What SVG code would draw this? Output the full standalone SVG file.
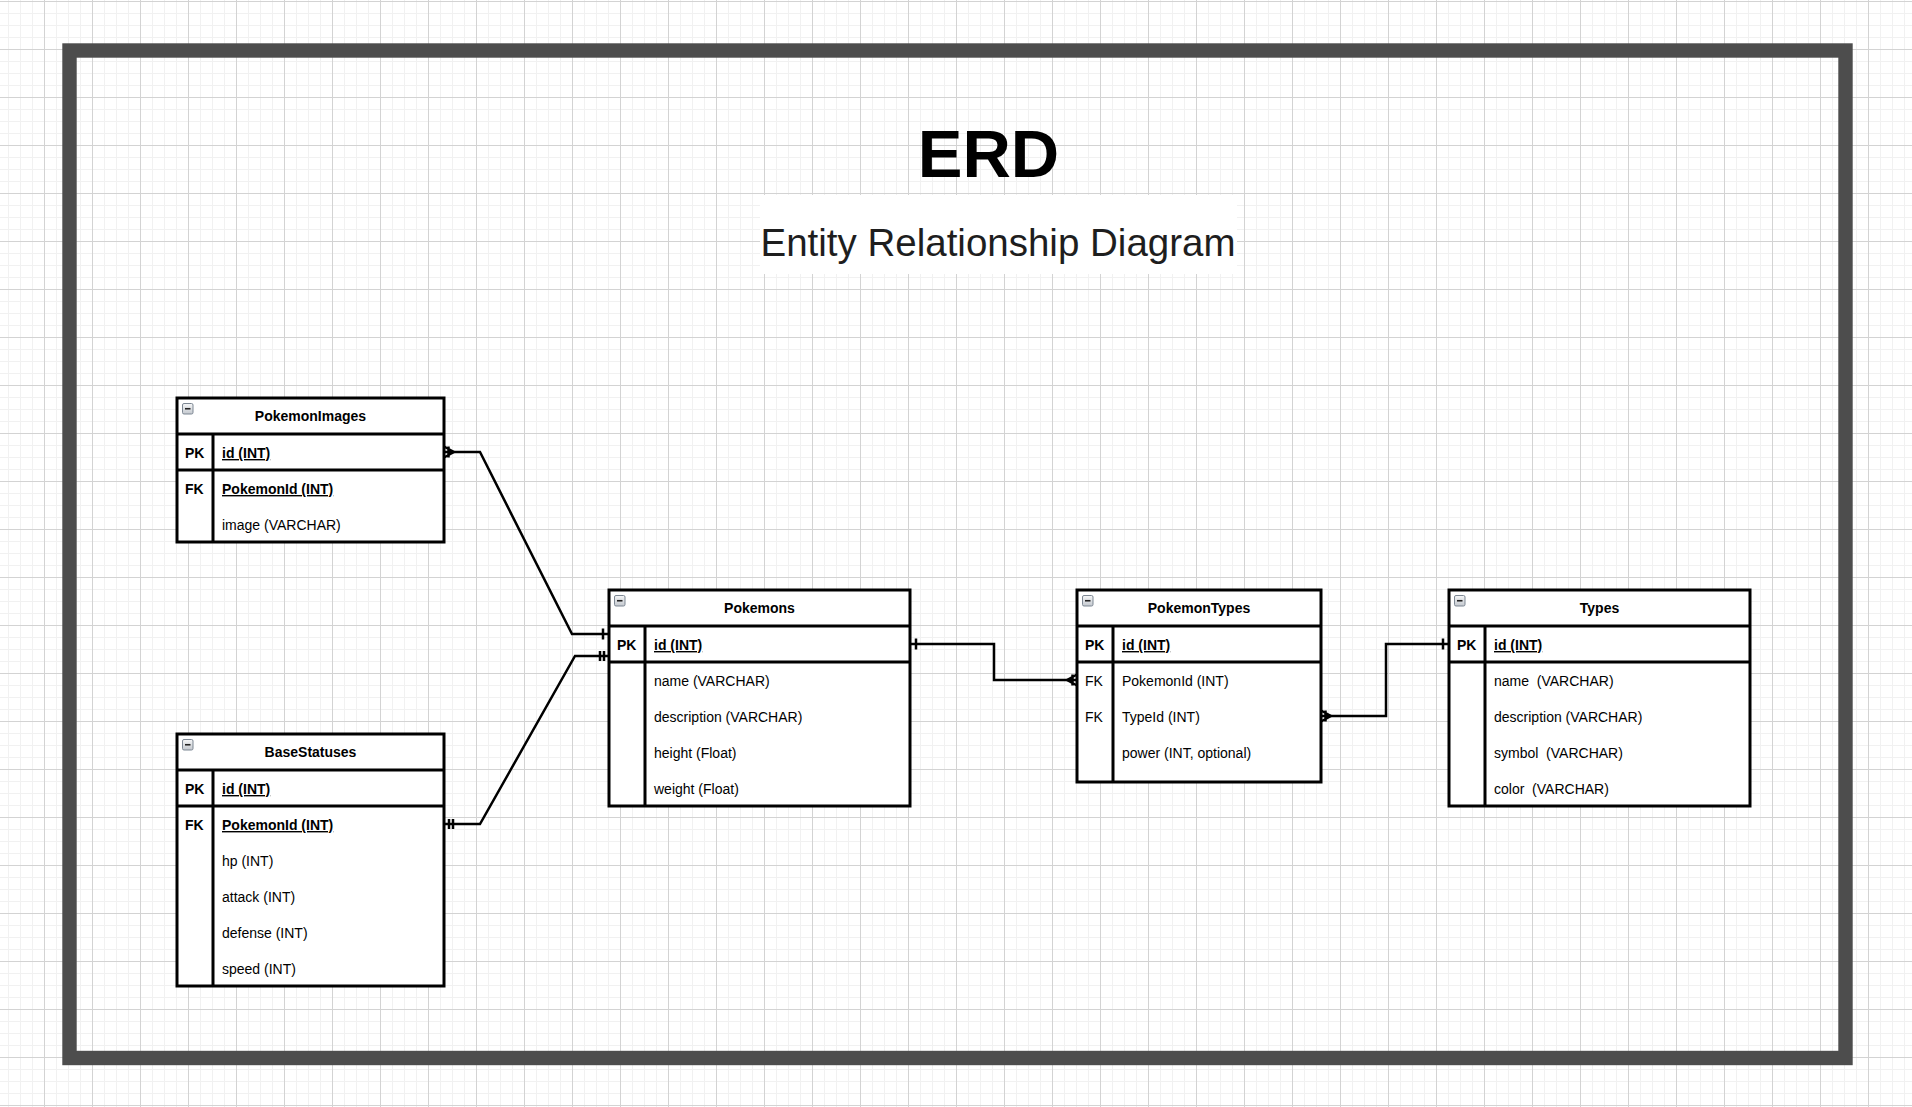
<svg xmlns="http://www.w3.org/2000/svg" xmlns:xlink="http://www.w3.org/1999/xlink" width="1912" height="1107" viewBox="0 0 1912 1107">
<style>
.tbl{fill:#fff;stroke:#000;stroke-width:3}
.ln{fill:none;stroke:#000;stroke-width:3}
.hdr{font-family:"Liberation Sans",Arial,sans-serif;font-size:14px;font-weight:bold;text-anchor:middle;fill:#000}
.k{font-family:"Liberation Sans",Arial,sans-serif;font-size:14px;font-weight:bold;fill:#000}
.kn{font-family:"Liberation Sans",Arial,sans-serif;font-size:14px;fill:#000}
.f{font-family:"Liberation Sans",Arial,sans-serif;font-size:14px;fill:#000;white-space:pre}
.u{font-weight:bold;text-decoration:underline}
.conn{fill:none;stroke:#000;stroke-width:2.5}
.mk{fill:none;stroke:#000;stroke-width:2.5}
</style>
<defs>
<pattern id="grid" x="44" y="1" width="48" height="48" patternUnits="userSpaceOnUse">
<rect width="48" height="48" fill="#fff"/>
<path d="M12.5 0V48M24.5 0V48M36.5 0V48M0 12.5H48M0 24.5H48M0 36.5H48" stroke="#f1f1f1" stroke-width="1"/>
<path d="M0.5 0V48M0 0.5H48" stroke="#d3d3d3" stroke-width="1"/>
</pattern>
<linearGradient id="ig" x1="0" y1="0" x2="0" y2="1">
<stop offset="0" stop-color="#f6f7f8"/>
<stop offset="1" stop-color="#c3c8ce"/>
</linearGradient>
<g id="minus">
<rect x="0.5" y="0.5" width="10.5" height="10.5" rx="1.5" fill="url(#ig)" stroke="#7d8793" stroke-width="1"/>
<path d="M3 5.75H8.5" stroke="#222" stroke-width="1.6"/>
</g>
<marker id="one" markerUnits="userSpaceOnUse" viewBox="-16 -8 20 16" refX="0" refY="0" markerWidth="20" markerHeight="16" orient="auto-start-reverse" overflow="visible">
<path class="mk" d="M-6 -5.5V5.5"/>
</marker>
<marker id="mandOne" markerUnits="userSpaceOnUse" viewBox="-16 -8 20 16" refX="0" refY="0" markerWidth="20" markerHeight="16" orient="auto-start-reverse" overflow="visible">
<path class="mk" d="M-5 -5V5M-9 -5V5"/>
</marker>
<marker id="oneToMany" markerUnits="userSpaceOnUse" viewBox="-16 -8 20 16" refX="0" refY="0" markerWidth="20" markerHeight="16" orient="auto-start-reverse" overflow="visible">
<path class="mk" d="M-10 0L0 -5.5M-10 0L0 5.5M-4.5 -5.5V5.5"/>
</marker>
</defs>

<rect x="0" y="0" width="1912" height="1107" fill="url(#grid)"/>
<rect id="frame" x="69.5" y="50.5" width="1776" height="1007.5" fill="none" stroke="#4d4d4d" stroke-width="14.4"/>

<g id="title">
<text x="988.5" y="177" font-family="'Liberation Sans',Arial,sans-serif" font-size="67" font-weight="bold" text-anchor="middle" fill="#000">ERD</text>
</g>
<g id="subtitle">
<rect x="760" y="195" width="477" height="79" fill="#fff"/>
<text x="998" y="256" font-family="'Liberation Sans',Arial,sans-serif" font-size="38.5" text-anchor="middle" fill="#1e1e1e">Entity Relationship Diagram</text>
</g>

<g id="connectors">
<path class="conn" d="M444 452H480L572 634H609" marker-start="url(#oneToMany)" marker-end="url(#one)"/>
<path class="conn" d="M444 824H480L575 656H609" marker-start="url(#mandOne)" marker-end="url(#mandOne)"/>
<path class="conn" d="M910 644H994V680H1077" marker-start="url(#one)" marker-end="url(#oneToMany)"/>
<path class="conn" d="M1321 716H1386V644H1449" marker-start="url(#oneToMany)" marker-end="url(#one)"/>
</g>

<g id="PokemonImages">
<rect class="tbl" x="177" y="398" width="267" height="144"/>
<path class="ln" d="M177 434H444M177 470H444M213 434V542"/>
<use xlink:href="#minus" href="#minus" x="182" y="403"/>
<text class="hdr" x="310.5" y="421">PokemonImages</text>
<text class="k" x="185" y="458">PK</text>
<text class="f u" x="222" y="458">id (INT)</text>
<text class="k" x="185" y="494">FK</text>
<text class="f u" x="222" y="494">PokemonId (INT)</text>
<text class="f" x="222" y="530">image (VARCHAR)</text>
</g>

<g id="BaseStatuses">
<rect class="tbl" x="177" y="734" width="267" height="252"/>
<path class="ln" d="M177 770H444M177 806H444M213 770V986"/>
<use xlink:href="#minus" href="#minus" x="182" y="739"/>
<text class="hdr" x="310.5" y="757">BaseStatuses</text>
<text class="k" x="185" y="794">PK</text>
<text class="f u" x="222" y="794">id (INT)</text>
<text class="k" x="185" y="830">FK</text>
<text class="f u" x="222" y="830">PokemonId (INT)</text>
<text class="f" x="222" y="866">hp (INT)</text>
<text class="f" x="222" y="902">attack (INT)</text>
<text class="f" x="222" y="938">defense (INT)</text>
<text class="f" x="222" y="974">speed (INT)</text>
</g>

<g id="Pokemons">
<rect class="tbl" x="609" y="590" width="301" height="216"/>
<path class="ln" d="M609 626H910M609 662H910M645 626V806"/>
<use xlink:href="#minus" href="#minus" x="614" y="595"/>
<text class="hdr" x="759.5" y="613">Pokemons</text>
<text class="k" x="617" y="650">PK</text>
<text class="f u" x="654" y="650">id (INT)</text>
<text class="f" x="654" y="686">name (VARCHAR)</text>
<text class="f" x="654" y="722">description (VARCHAR)</text>
<text class="f" x="654" y="758">height (Float)</text>
<text class="f" x="654" y="794">weight (Float)</text>
</g>

<g id="PokemonTypes">
<rect class="tbl" x="1077" y="590" width="244" height="192"/>
<path class="ln" d="M1077 626H1321M1077 662H1321M1113 626V782"/>
<use xlink:href="#minus" href="#minus" x="1082" y="595"/>
<text class="hdr" x="1199" y="613">PokemonTypes</text>
<text class="k" x="1085" y="650">PK</text>
<text class="f u" x="1122" y="650">id (INT)</text>
<text class="kn" x="1085" y="686">FK</text>
<text class="f" x="1122" y="686">PokemonId (INT)</text>
<text class="kn" x="1085" y="722">FK</text>
<text class="f" x="1122" y="722">TypeId (INT)</text>
<text class="f" x="1122" y="758">power (INT, optional)</text>
</g>

<g id="Types">
<rect class="tbl" x="1449" y="590" width="301" height="216"/>
<path class="ln" d="M1449 626H1750M1449 662H1750M1485 626V806"/>
<use xlink:href="#minus" href="#minus" x="1454" y="595"/>
<text class="hdr" x="1599.5" y="613">Types</text>
<text class="k" x="1457" y="650">PK</text>
<text class="f u" x="1494" y="650">id (INT)</text>
<text class="f" x="1494" y="686">name  (VARCHAR)</text>
<text class="f" x="1494" y="722">description (VARCHAR)</text>
<text class="f" x="1494" y="758">symbol  (VARCHAR)</text>
<text class="f" x="1494" y="794">color  (VARCHAR)</text>
</g>
</svg>
